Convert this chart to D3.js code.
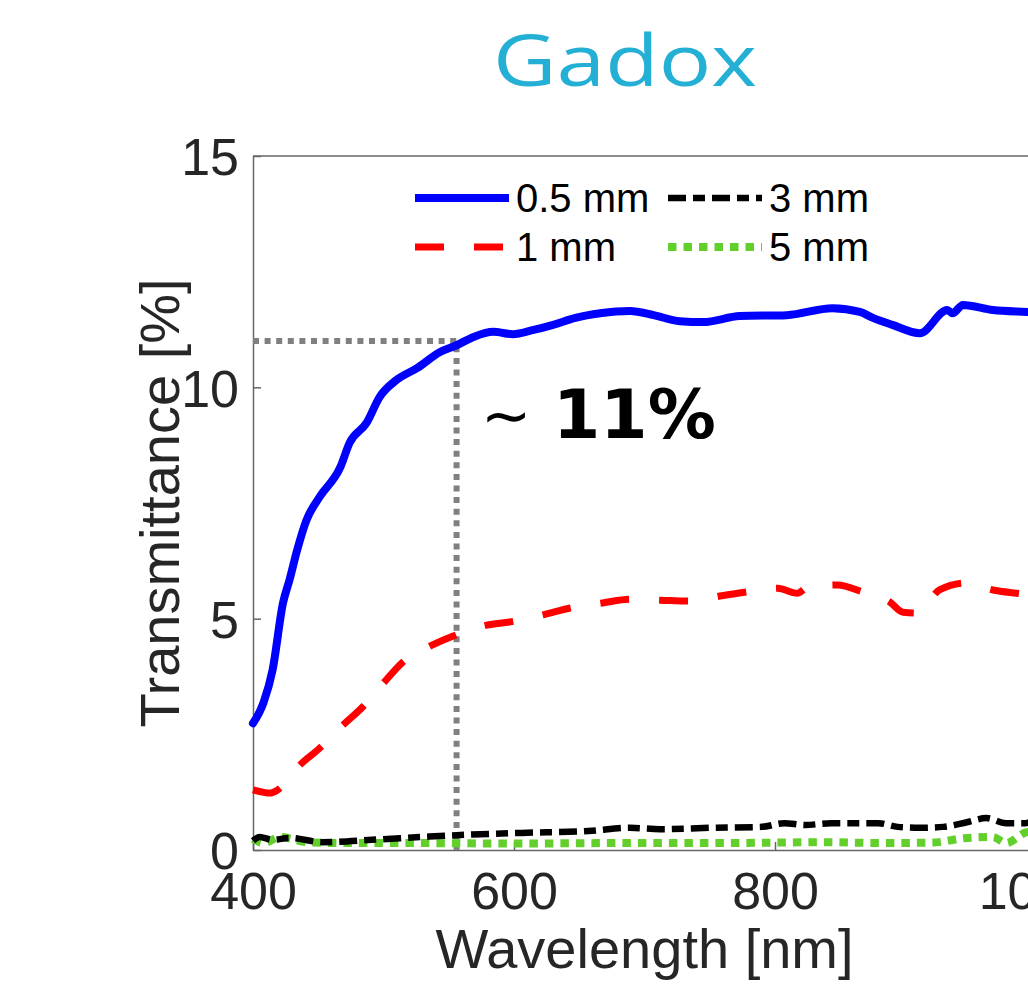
<!DOCTYPE html>
<html>
<head>
<meta charset="utf-8">
<script src="https://cdn.jsdelivr.net/npm/d3@7"></script>
<style>
  html, body { margin: 0; padding: 0; background: #fff; }
  #chart { width: 1028px; height: 984px; overflow: hidden; }
  svg { display: block; }
</style>
</head>
<body>
<div id="chart"></div>
<script>
// -------------------------------
// Data
// -------------------------------
const chartTitle = "Gadox";
const xTicks = [400, 600, 800, 1000];
const yTicks = [0, 5, 10, 15];

// 0.5 mm
const wl05 = [400, 408, 415, 423, 428, 434, 441, 451, 467, 474, 487, 497, 510, 526, 543, 556, 569, 584, 599, 615, 630, 647, 666, 689, 707, 727, 745, 773, 809, 844, 865, 875, 890, 911, 932, 936, 944, 967, 993, 1000];
const t05  = [2.74, 3.18, 3.89, 5.34, 5.84, 6.5, 7.13, 7.63, 8.28, 8.8, 9.23, 9.79, 10.16, 10.42, 10.76, 10.91, 11.09, 11.2, 11.15, 11.24, 11.35, 11.5, 11.6, 11.65, 11.56, 11.43, 11.41, 11.54, 11.56, 11.71, 11.63, 11.5, 11.35, 11.17, 11.67, 11.6, 11.78, 11.67, 11.63, 11.62];

// 1 mm
const wl1 = [400, 413, 419, 436, 451, 469, 484, 500, 514, 536, 553, 579, 597, 622, 643, 668, 689, 712, 735, 758, 779, 802, 817, 825, 848, 867, 888, 898, 909, 926, 947, 967, 985, 1000];
const t1  = [1.3, 1.23, 1.3, 1.84, 2.2, 2.7, 3.09, 3.61, 4.04, 4.41, 4.62, 4.86, 4.93, 5.08, 5.23, 5.34, 5.42, 5.4, 5.38, 5.49, 5.58, 5.66, 5.55, 5.68, 5.73, 5.58, 5.36, 5.14, 5.12, 5.62, 5.77, 5.62, 5.55, 5.5];

// 3 mm
const wl3 = [400, 405, 415, 428, 453, 491, 529, 556, 606, 657, 689, 712, 751, 790, 807, 823, 843, 863, 879, 894, 911, 929, 947, 962, 977, 992, 1000];
const t3  = [0.2, 0.28, 0.22, 0.26, 0.17, 0.22, 0.28, 0.32, 0.37, 0.41, 0.48, 0.45, 0.48, 0.5, 0.58, 0.54, 0.58, 0.58, 0.58, 0.5, 0.48, 0.5, 0.6, 0.69, 0.58, 0.58, 0.71];

// 5 mm
const wl5 = [400, 408, 421, 441, 466, 520, 600, 680, 760, 800, 840, 880, 920, 947, 967, 977, 994, 1000];
const t5  = [0.24, 0.15, 0.28, 0.17, 0.15, 0.15, 0.14, 0.15, 0.15, 0.16, 0.17, 0.15, 0.16, 0.26, 0.28, 0.15, 0.39, 0.36];

// guide lines (~11 % at ~556 nm)
const guideWl = 556;
const guideT = 11;
const guideLabel = "11%";

const seriesList = [
  { name: "0.5 mm", wl: wl05, t: t05, color: "#0000ff", dash: null, width: 8, cap: "round" },
  { name: "1 mm", wl: wl1, t: t1, color: "#ff0000", dash: "29,30", width: 7, cap: "butt" },
  { name: "3 mm", wl: wl3, t: t3, color: "#000000", dash: "18,7,12,7", width: 6.5, cap: "butt" },
  { name: "5 mm", wl: wl5, t: t5, color: "#62cf2b", dash: "8.5,7", width: 8, cap: "butt" },
];

// -------------------------------
// Layout
// -------------------------------
const svgWidth = 1028;
const svgHeight = 984;
const margin = { top: 156, left: 253 };
const innerWidth = 783;
const innerHeight = 694;
const axisColor = "#666666";
const textColor = "#262626";
const fontFamily = "'Liberation Sans', Arial, Helvetica, sans-serif";

const svg = d3.select("#chart")
  .append("svg")
  .attr("width", svgWidth)
  .attr("height", svgHeight);

// title
svg.append("text")
  .attr("x", 625)
  .attr("y", 86)
  .attr("text-anchor", "middle")
  .attr("font-family", "'Open Sans', 'Noto Sans', sans-serif")
  .attr("font-size", 72)
  .attr("fill", "#24afd5")
  .attr("textLength", 264)
  .attr("lengthAdjust", "spacingAndGlyphs")
  .text(chartTitle);

const g = svg.append("g")
  .attr("transform", `translate(${margin.left}, ${margin.top})`);

// -------------------------------
// Scales
// -------------------------------
const xScale = d3.scaleLinear().domain([400, 1000]).range([0, innerWidth]);
const yScale = d3.scaleLinear().domain([0, 15]).range([innerHeight, 0]);

// -------------------------------
// Axes
// -------------------------------
const xAxis = g.append("g")
  .attr("transform", `translate(0, ${innerHeight})`)
  .call(d3.axisBottom(xScale).tickValues(xTicks).tickFormat(d3.format("d"))
    .tickSize(-8).tickPadding(22).tickSizeOuter(0));
const yAxis = g.append("g")
  .call(d3.axisLeft(yScale).tickValues(yTicks).tickFormat(d3.format("d"))
    .tickSize(-8).tickPadding(14).tickSizeOuter(0));

[xAxis, yAxis].forEach((ax) => {
  ax.select(".domain").attr("stroke", axisColor).attr("stroke-width", 1.5);
  ax.selectAll(".tick line").attr("stroke", axisColor).attr("stroke-width", 1.5);
  ax.selectAll(".tick text")
    .attr("fill", textColor)
    .attr("font-family", fontFamily)
    .attr("font-size", 52);
});
xAxis.selectAll(".tick text").attr("dy", "0.71em");
yAxis.selectAll(".tick text").attr("dy", "0.36em");

// top border of the box
g.append("line")
  .attr("x1", 0).attr("x2", innerWidth)
  .attr("y1", 0).attr("y2", 0)
  .attr("stroke", axisColor).attr("stroke-width", 1.5);

// axis titles
svg.append("text")
  .attr("x", margin.left + innerWidth / 2)
  .attr("y", 968)
  .attr("text-anchor", "middle")
  .attr("font-family", fontFamily)
  .attr("font-size", 56)
  .attr("fill", textColor)
  .text("Wavelength [nm]");

svg.append("text")
  .attr("transform", `translate(179, ${margin.top + innerHeight / 2}) rotate(-90)`)
  .attr("text-anchor", "middle")
  .attr("font-family", fontFamily)
  .attr("font-size", 56)
  .attr("fill", textColor)
  .text("Transmittance [%]");

// -------------------------------
// Guide lines
// -------------------------------
g.append("path")
  .attr("d", d3.line()([
    [xScale(400), yScale(guideT)],
    [xScale(guideWl), yScale(guideT)],
    [xScale(guideWl), yScale(0)],
  ]))
  .attr("fill", "none")
  .attr("stroke", "#808080")
  .attr("stroke-width", 6)
  .attr("stroke-dasharray", "6,5.6");

// -------------------------------
// Series
// -------------------------------
const lineGen = d3.line()
  .x((d) => xScale(d[0]))
  .y((d) => yScale(d[1]))
  .curve(d3.curveMonotoneX);

seriesList.slice().reverse().forEach((s) => {
  g.append("path")
    .datum(d3.zip(s.wl, s.t))
    .attr("d", lineGen)
    .attr("fill", "none")
    .attr("stroke", s.color)
    .attr("stroke-width", s.width)
    .attr("stroke-linecap", s.cap)
    .attr("stroke-linejoin", "round")
    .attr("stroke-dasharray", s.dash);
});

// annotation
svg.append("text")
  .attr("x", 481)
  .attr("y", 436)
  .attr("font-family", "'DejaVu Sans', sans-serif")
  .attr("font-size", 60)
  .attr("fill", "#000")
  .text("\u223C");
svg.append("text")
  .attr("x", 553)
  .attr("y", 438)
  .attr("font-family", "'DejaVu Sans', sans-serif")
  .attr("font-weight", "bold")
  .attr("font-size", 68)
  .attr("fill", "#000")
  .text(guideLabel);

// -------------------------------
// Legend
// -------------------------------
const legendPos = [
  { x: 415, y: 198 },
  { x: 415, y: 247 },
  { x: 668, y: 198 },
  { x: 668, y: 247 },
];
seriesList.forEach((s, i) => {
  const p = legendPos[i];
  const lg = svg.append("g").attr("transform", `translate(${p.x}, ${p.y})`);
  lg.append("line")
    .attr("x1", 0).attr("x2", 94)
    .attr("y1", 0).attr("y2", 0)
    .attr("stroke", s.color)
    .attr("stroke-width", s.width)
    .attr("stroke-dasharray", s.dash);
  lg.append("text")
    .attr("x", 101)
    .attr("y", 14)
    .attr("font-family", fontFamily)
    .attr("font-size", 40)
    .attr("fill", "#000")
    .text(s.name);
});
</script>
</body>
</html>
